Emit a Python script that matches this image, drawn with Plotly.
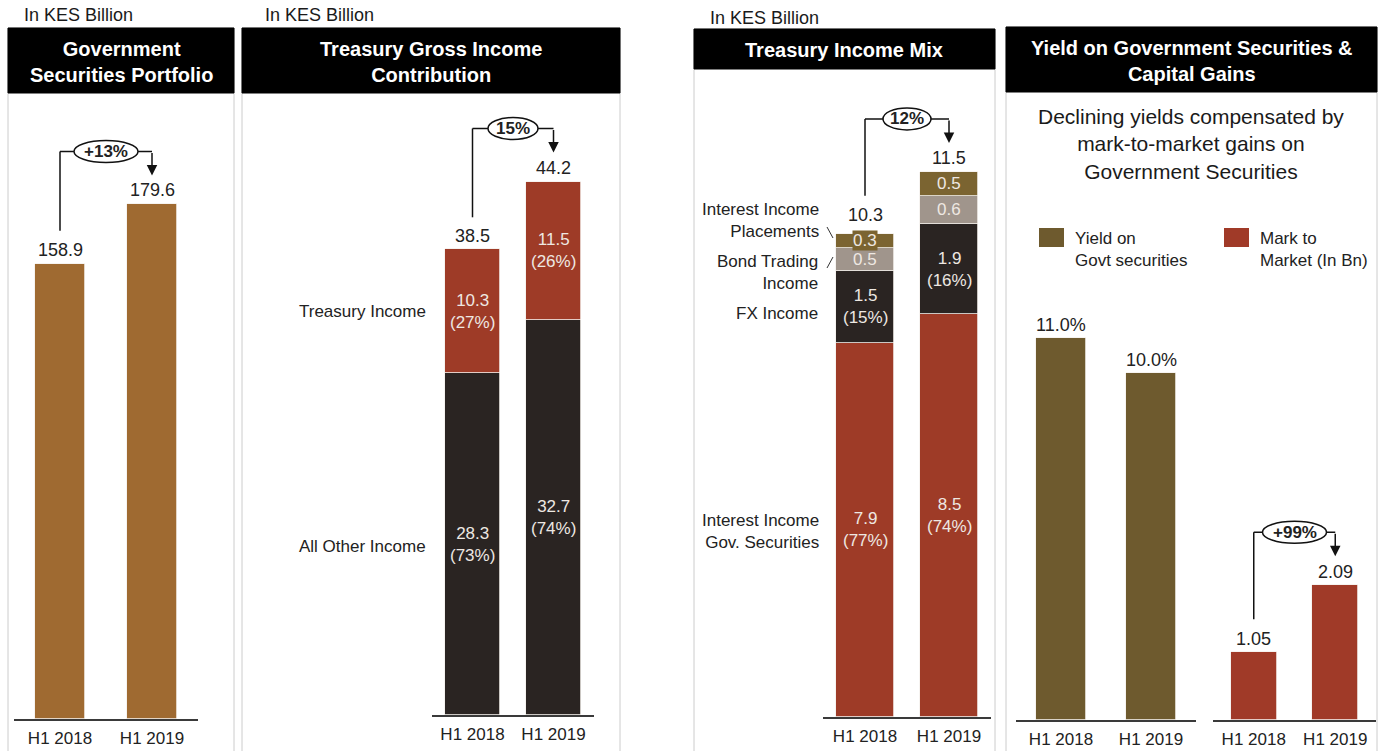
import plotly.graph_objects as go

# ---- data ---------------------------------------------------------------
periods = ["H1 2018", "H1 2019"]

portfolio = [158.9, 179.6]
portfolio_growth = "+13%"

gross_other = [28.3, 32.7]
gross_treasury = [10.3, 11.5]
gross_total = [38.5, 44.2]
gross_other_pct = ["73%", "74%"]
gross_treasury_pct = ["27%", "26%"]
gross_growth = "15%"

mix_gov = [7.9, 8.5]
mix_fx = [1.5, 1.9]
mix_bond = [0.5, 0.6]
mix_place = [0.3, 0.5]
mix_total = [10.3, 11.5]
mix_gov_pct = ["77%", "74%"]
mix_fx_pct = ["15%", "16%"]
mix_growth = "12%"

yield_pct = [11.0, 10.0]
mark_to_market = [1.05, 2.09]
mtm_growth = "+99%"

# ---- page geometry / style ------------------------------------------------
W, H = 1379, 751
FONT = "Liberation Sans, Arial, sans-serif"
INK = "#222222"
COPPER = "#9F6A31"
RED = "#9E3B27"
DARK = "#2A2422"
GREY = "#A0958C"
OLIVE_LIGHT = "#7B6431"
OLIVE = "#6E5A2E"
SEG_TXT = "#EEE8E2"
BORDER = "#CCCCCC"


def px_x(x):
    return x / W


def px_y(y):
    return 1 - y / H


fig = go.Figure()
shapes = []
annotations = []

# panel plot areas: (x-left px, x-right px, baseline px, px per unit, bar width)
panels = {
    "1": dict(x0=14, x1=198, base=719, ppu=2.865, bw=0.55),
    "2": dict(x0=432, x1=594, base=715, ppu=12.07, bw=0.69),
    "3": dict(x0=823, x1=991, base=717, ppu=47.4, bw=0.69),
    "4": dict(x0=1016, x1=1196, base=720, ppu=34.7, bw=0.56),
    "5": dict(x0=1213, x1=1376, base=720, ppu=64.5, bw=0.56),
}
TOP = 100

layout_axes = {}
for k, p in panels.items():
    xa = "xaxis" if k == "1" else f"xaxis{k}"
    ya = "yaxis" if k == "1" else f"yaxis{k}"
    yref = "y" if k == "1" else f"y{k}"
    layout_axes[xa] = dict(
        domain=[px_x(p["x0"]), px_x(p["x1"])], range=[-0.5, 1.5],
        tickvals=[0, 1], ticktext=periods, showline=True, linecolor="#3A3A3A",
        linewidth=1.5, ticks="", showgrid=False, zeroline=False, anchor=yref,
        ticklabelstandoff=3,
        tickfont=dict(family=FONT, size=17, color=INK), fixedrange=True,
    )
    layout_axes[ya] = dict(
        domain=[px_y(p["base"]), px_y(TOP)], range=[0, (p["base"] - TOP) / p["ppu"]],
        visible=False, fixedrange=True,
    )


def refs(k):
    return ("x" if k == "1" else f"x{k}"), ("y" if k == "1" else f"y{k}")


def bar(k, vals, color, name):
    xr, yr = refs(k)
    fig.add_trace(go.Bar(
        x=[0, 1], y=vals, width=panels[k]["bw"], name=name,
        marker=dict(color=color, line=dict(color="#F4F0EC", width=0.8)),
        xaxis=xr, yaxis=yr, showlegend=False, hoverinfo="y",
    ))


def value_label(k, i, v, text, shift=14, size=18):
    xr, yr = refs(k)
    annotations.append(dict(
        x=i, y=v, xref=xr, yref=yr, text=text, showarrow=False,
        yanchor="middle", yshift=shift, font=dict(family=FONT, size=size, color=INK),
    ))


def seg_label(k, i, mid, text, size=17, bg=None):
    xr, yr = refs(k)
    ann = dict(
        x=i, y=mid, xref=xr, yref=yr, text=text, showarrow=False,
        yanchor="middle", font=dict(family=FONT, size=size, color=SEG_TXT),
    )
    if bg:
        ann.update(bgcolor=bg, borderpad=0)
    annotations.append(ann)


def growth_arrow(k, v0, v1, text, oval_w):
    xr, yr = refs(k)
    ppu = panels[k]["ppu"]
    y_start = v0 + 33 / ppu
    y_br = v1 + 53 / ppu
    y_tip = v1 + 29 / ppu
    line = dict(color="#111111", width=1.5)
    shapes.append(dict(type="line", xref=xr, yref=yr, x0=0, x1=0,
                       y0=y_start, y1=y_br, line=line))
    shapes.append(dict(type="line", xref=xr, yref=yr, x0=0, x1=1,
                       y0=y_br, y1=y_br, line=line))
    shapes.append(dict(type="circle", xref=xr, yref=yr, xsizemode="pixel",
                       ysizemode="pixel", xanchor=0.5, yanchor=y_br,
                       x0=-oval_w / 2, x1=oval_w / 2, y0=-11, y1=11,
                       fillcolor="white", line=line))
    annotations.append(dict(x=1, y=y_tip, xref=xr, yref=yr, ax=0,
                            ay=-(y_br - y_tip) * ppu, axref="pixel", ayref="pixel",
                            text="", showarrow=True, arrowhead=2, arrowsize=1.4,
                            arrowwidth=1.5, arrowcolor="#111111", standoff=0))
    annotations.append(dict(x=0.5, y=y_br, xref=xr, yref=yr, text=f"<b>{text}</b>",
                            showarrow=False, yanchor="middle",
                            font=dict(family=FONT, size=17, color=INK)))


def paper_text(x, y, text, size=17, anchor="center", bold=False, color=INK, align=None):
    annotations.append(dict(
        x=px_x(x), y=px_y(y), xref="paper", yref="paper",
        text=f"<b>{text}</b>" if bold else text, showarrow=False,
        xanchor=anchor, yanchor="middle", align=align or anchor,
        font=dict(family=FONT, size=size, color=color),
    ))


# ---- panel frames and black headers ---------------------------------------
frames = [
    (8, 234, 28, 93, ["Government", "Securities Portfolio"]),
    (242, 620, 28, 93, ["Treasury Gross Income", "Contribution"]),
    (694, 995, 29, 69, ["Treasury Income Mix"]),
    (1006, 1377, 27, 92, ["Yield on Government Securities &", "Capital Gains"]),
]
for x0, x1, t, hb, title in frames:
    shapes.append(dict(type="rect", xref="paper", yref="paper", x0=px_x(x0), x1=px_x(x1),
                       y0=px_y(H + 5), y1=px_y(t), line=dict(color=BORDER, width=1),
                       layer="below"))
    shapes.append(dict(type="rect", xref="paper", yref="paper", x0=px_x(x0), x1=px_x(x1),
                       y0=px_y(hb), y1=px_y(t), fillcolor="#000000",
                       line=dict(color="#000000", width=1), layer="below"))
    paper_text((x0 + x1) / 2, (t + hb) / 2 + 1, "<br>".join(title), size=20, bold=True,
               color="white")

for x, y in [(22, 15), (263, 15), (708, 18)]:
    paper_text(x, y, "In KES Billion", size=18, anchor="left", color="#1A1A1A")

# ---- panel 1: government securities portfolio ----------------------------
bar("1", portfolio, COPPER, "Portfolio")
for i, v in enumerate(portfolio):
    value_label("1", i, v, f"{v:.1f}")
growth_arrow("1", portfolio[0], portfolio[1], portfolio_growth, 64)

# ---- panel 2: treasury gross income contribution -------------------------
bar("2", gross_other, DARK, "All Other Income")
bar("2", gross_treasury, RED, "Treasury Income")
for i in range(2):
    seg_label("2", i, gross_other[i] / 2, f"{gross_other[i]:.1f}<br>({gross_other_pct[i]})")
    seg_label("2", i, gross_other[i] + gross_treasury[i] / 2,
              f"{gross_treasury[i]:.1f}<br>({gross_treasury_pct[i]})")
    value_label("2", i, gross_total[i], f"{gross_total[i]:.1f}")
growth_arrow("2", gross_total[0], gross_total[1], gross_growth, 50)
annotations.append(dict(x=px_x(428), y=gross_other[0] + gross_treasury[0] / 2, xref="paper",
                        yref="y2", text="Treasury Income", showarrow=False, xanchor="right",
                        font=dict(family=FONT, size=17, color=INK)))
annotations.append(dict(x=px_x(428), y=gross_other[0] / 2 - 0.2, xref="paper",
                        yref="y2", text="All Other Income", showarrow=False, xanchor="right",
                        font=dict(family=FONT, size=17, color=INK)))

# ---- panel 3: treasury income mix ----------------------------------------
bar("3", mix_gov, RED, "Interest Income Gov. Securities")
bar("3", mix_fx, DARK, "FX Income")
bar("3", mix_bond, GREY, "Bond Trading Income")
bar("3", mix_place, OLIVE_LIGHT, "Interest Income Placements")
for i in range(2):
    b = 0
    seg_label("3", i, b + mix_gov[i] / 2, f"{mix_gov[i]:.1f}<br>({mix_gov_pct[i]})")
    b += mix_gov[i]
    seg_label("3", i, b + mix_fx[i] / 2, f"{mix_fx[i]:.1f}<br>({mix_fx_pct[i]})")
    b += mix_fx[i]
    seg_label("3", i, b + mix_bond[i] / 2, f"{mix_bond[i]:.1f}")
    b += mix_bond[i]
    seg_label("3", i, b + mix_place[i] / 2, f"{mix_place[i]:.1f}", bg=OLIVE_LIGHT)
    value_label("3", i, mix_total[i], f"{mix_total[i]:.1f}")
growth_arrow("3", mix_total[0], mix_total[1], mix_growth, 48)

paper_text(821, 221, "Interest Income<br>Placements", anchor="right")
paper_text(820, 272, "Bond Trading<br>Income", anchor="right")
paper_text(820, 313, "FX Income", anchor="right")
paper_text(821, 531, "Interest Income<br>Gov. Securities", anchor="right")
for (ax0, ay0, ax1, ay1) in [(827, 227, 833, 238), (827, 268, 833, 257)]:
    shapes.append(dict(type="line", xref="paper", yref="paper", x0=px_x(ax0), y0=px_y(ay0),
                       x1=px_x(ax1), y1=px_y(ay1), line=dict(color="#333333", width=1)))

# ---- panel 4: yield and mark-to-market -----------------------------------
paper_text(1191, 144, "Declining yields compensated by<br>mark-to-market gains on<br>Government Securities",
           size=21, color="#1A1A1A")
for sx, color, label in [(1039, OLIVE, "Yield on<br>Govt securities"),
                         (1224, "#A03A28", "Mark to<br>Market (In Bn)")]:
    shapes.append(dict(type="rect", xref="paper", yref="paper", x0=px_x(sx), x1=px_x(sx + 25),
                       y0=px_y(247), y1=px_y(228), fillcolor=color, line=dict(width=0)))
    paper_text(sx + 34, 250, label, anchor="left")

bar("4", yield_pct, OLIVE, "Yield on Govt securities")
for i, v in enumerate(yield_pct):
    value_label("4", i, v, f"{v:.1f}%", shift=13)

bar("5", mark_to_market, "#A03A28", "Mark to Market (In Bn)")
for i, v in enumerate(mark_to_market):
    value_label("5", i, v, f"{v:.2f}", shift=13)
growth_arrow("5", mark_to_market[0], mark_to_market[1], mtm_growth, 64)

fig.update_layout(
    width=W, height=H, margin=dict(l=0, r=0, t=0, b=0),
    paper_bgcolor="white", plot_bgcolor="rgba(0,0,0,0)",
    barmode="stack", bargap=0, showlegend=False,
    shapes=shapes, annotations=annotations,
    font=dict(family=FONT, color=INK),
    **layout_axes,
)

fig.write_html("out.html", config={"displayModeBar": False})
